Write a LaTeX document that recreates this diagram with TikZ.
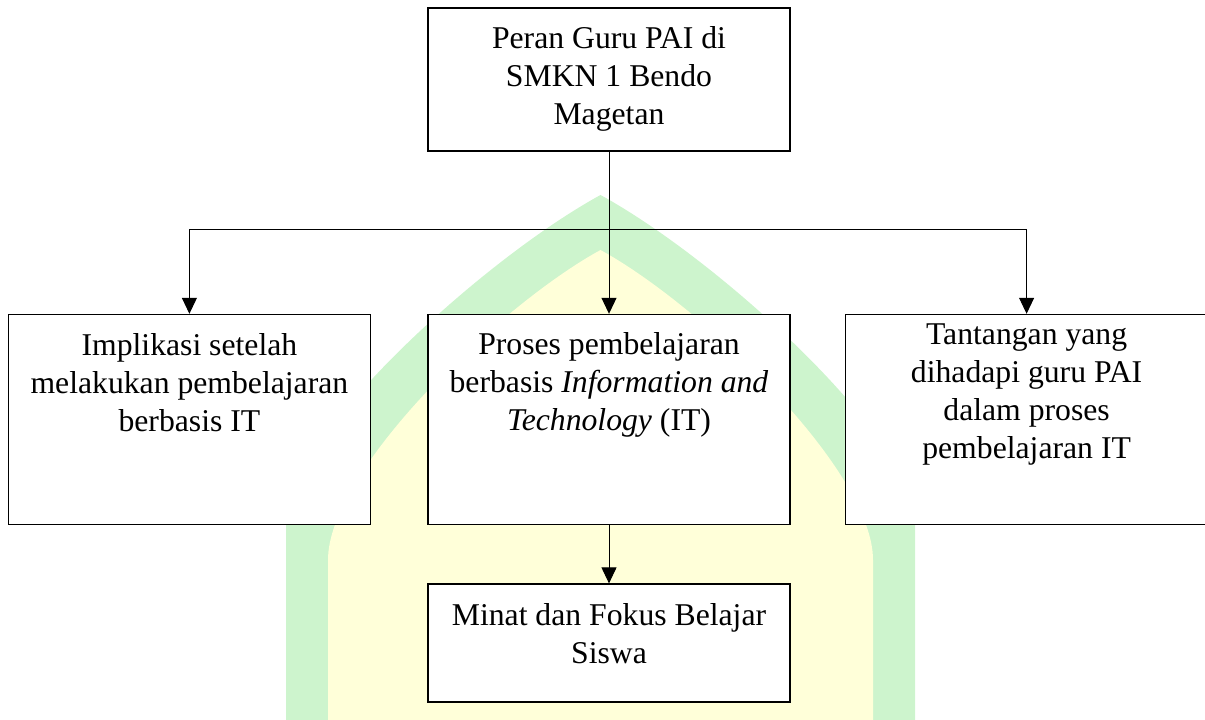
\documentclass[tikz,border=0pt]{standalone}
\usepackage{fontspec}
\setmainfont{Liberation Serif}
\usetikzlibrary{arrows.meta,positioning}
\definecolor{hijau}{RGB}{205,244,205}
\definecolor{kuning}{RGB}{255,255,217}
% isi kotak: tinggi, jarak baris pertama, teks
\newcommand{\isi}[3]{\parbox[c][#1][t]{362pt}{\centering\rule{0pt}{#2}#3}}

\begin{document}
\begin{tikzpicture}[
  x=1pt, y=1pt,
  kotak/.style={draw, fill=white, line width=1.6pt, inner sep=0pt, font=\fontsize{31.7}{38}\selectfont},
  garis/.style={line width=1pt},
  panah/.style={-{Triangle[width=15pt,length=16pt]}, line width=1pt}
]
  \useasboundingbox (0,0) rectangle (1205,720);
  % latar belakang
  \fill[hijau] (286,0) -- (286,200) .. controls (286,280) and (480,459) .. (600.5,525)
    .. controls (721,459) and (915,280) .. (915,200) -- (915,0) -- cycle;
  \fill[kuning] (328,0) -- (328,160) .. controls (328,250) and (500,415) .. (600.5,470)
    .. controls (701,415) and (873,250) .. (873,160) -- (873,0) -- cycle;

  \node[kotak] (atas) at (609,640.5) {\isi{143pt}{41pt}{Peran Guru PAI di\\SMKN 1 Bendo\\Magetan}};
  \node[kotak, below=162pt of atas] (tengah) {\isi{210pt}{40pt}{Proses pembelajaran\\berbasis \textit{Information and}\\\textit{Technology} (IT)}};
  \node[kotak, left=56pt of tengah] (kiri) {\isi{210pt}{41pt}{Implikasi setelah\\melakukan pembelajaran\\berbasis IT}};
  \node[kotak, right=54pt of tengah] (kanan) {\isi{210pt}{30pt}{Tantangan yang\\dihadapi guru PAI\\dalam proses\\pembelajaran IT}};
  \node[kotak, below=58pt of tengah] (bawah) {\isi{118pt}{41pt}{Minat dan Fokus Belajar\\Siswa}};

  \coordinate (cabang) at (609,490);
  \draw[garis] (kiri.north |- cabang) -- (kanan.north |- cabang);
  \draw[panah] (kiri.north |- cabang) -- (kiri.north);
  \draw[panah] (kanan.north |- cabang) -- (kanan.north);
  \draw[panah] (atas) -- (tengah);
  \draw[panah] (tengah) -- (bawah);
\end{tikzpicture}
\end{document}
